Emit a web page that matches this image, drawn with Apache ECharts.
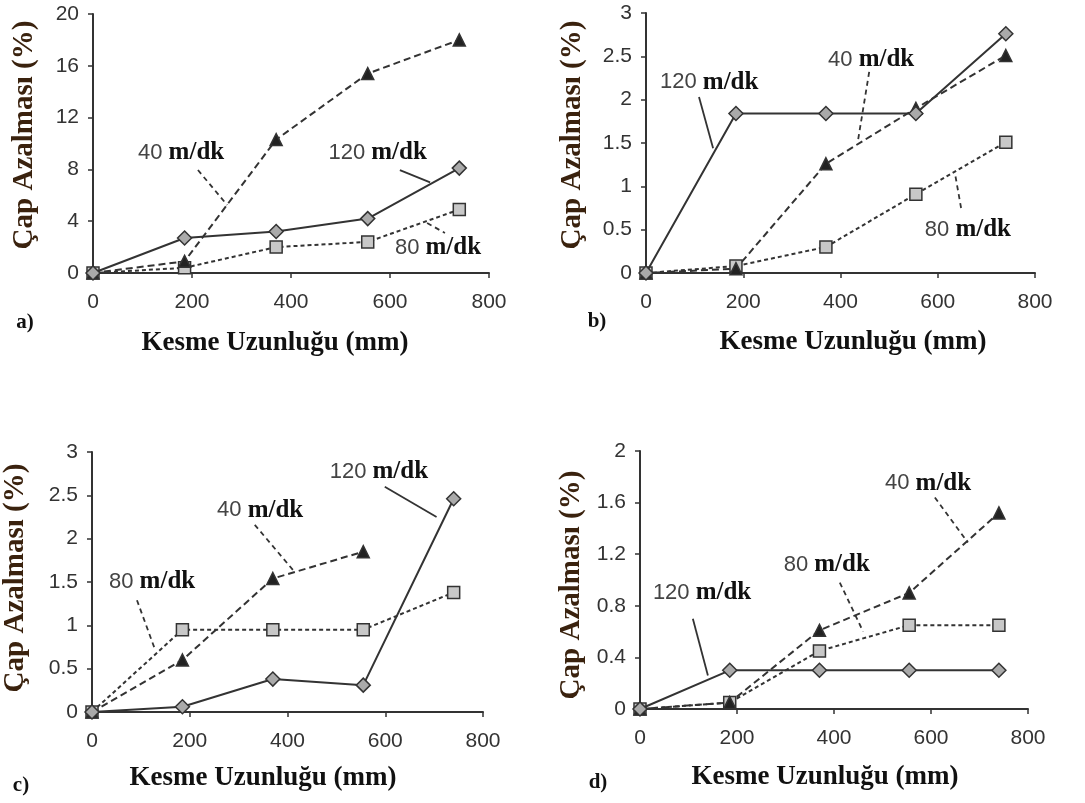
<!DOCTYPE html>
<html>
<head>
<meta charset="utf-8">
<script src="https://cdn.jsdelivr.net/npm/echarts@6/dist/echarts.min.js"></script>
<style>
  html, body { margin: 0; padding: 0; background: #fff; }
  #main { width: 1085px; height: 803px; }
</style>
</head>
<body>
<div id="main"></div>
<script>
// kesme uzunlugu (mm)
const xValues = [0, 185, 370, 555, 740];

// a)
const a40 = [0, 0.9, 10.3, 15.4, 18.0];
const a80 = [0, 0.4, 2.0, 2.4, 4.9];
const a120 = [0, 2.7, 3.2, 4.2, 8.1];
// b)
const b40 = [0, 0.05, 1.26, 1.9, 2.51];
const b80 = [0, 0.08, 0.3, 0.91, 1.51];
const b120 = [0, 1.84, 1.84, 1.84, 2.76];
// c)
const c40 = [0, 0.6, 1.54, 1.85];
const c80 = [0, 0.95, 0.95, 0.95, 1.38];
const c120 = [0, 0.06, 0.38, 0.31, 2.46];
// d)
const d40 = [0, 0.05, 0.61, 0.9, 1.52];
const d80 = [0, 0.05, 0.45, 0.65, 0.65];
const d120 = [0, 0.3, 0.3, 0.3, 0.3];

// y axis max / step per panel
const yMax = [20, 3, 3, 2];
const yStep = [4, 0.5, 0.5, 0.4];

// notes: [textX, textY, lineX1, lineY1, lineX2, lineY2] in data units
const notes = {
  a: { 40: [178, 9.3, 212, 7.95, 271, 5.25], 80: [697, 1.93, 675, 3.86, 711, 3.09], 120: [575, 9.3, 620, 7.95, 681, 7.0] },
  b: { 40: [463, 2.46, 459, 2.32, 436, 1.53], 80: [662, 0.5, 648, 0.75, 636, 1.13], 120: [130, 2.2, 109, 2.03, 138, 1.44] },
  c: { 40: [344, 2.33, 333, 2.16, 411, 1.64], 80: [123, 1.5, 92, 1.29, 129, 0.72], 120: [587, 2.77, 599, 2.6, 705, 2.25] },
  d: { 40: [594, 1.75, 608, 1.64, 676, 1.29], 80: [385, 1.12, 412, 0.98, 460, 0.6], 120: [128, 0.9, 109, 0.7, 140, 0.26] }
};

const grids = [
  { left: 93, top: 14, width: 396, height: 259 },
  { left: 646, top: 13, width: 389, height: 260 },
  { left: 92, top: 452, width: 391, height: 260 },
  { left: 640, top: 451, width: 388, height: 258 }
];

const ink = '#333';
const serif = '"Liberation Serif", "DejaVu Serif", serif';
const sans = '"Liberation Sans", Arial, sans-serif';

const styles = {
  40: { symbol: 'triangle', size: 12, fill: '#222', type: [7, 4] },
  80: { symbol: 'rect', size: 12, fill: '#c8c8c8', type: [4, 3] },
  120: { symbol: 'diamond', size: 14, fill: '#aaa', type: 'solid' }
};

function pairs(vals) {
  return vals.map((v, i) => [xValues[i], v]);
}

function makeSeries(idx, key, speed, vals) {
  const st = styles[speed];
  const n = notes[key][speed];
  return {
    type: 'line',
    xAxisIndex: idx,
    yAxisIndex: idx,
    data: pairs(vals),
    symbol: st.symbol,
    symbolSize: st.size,
    itemStyle: { color: st.fill, borderColor: ink, borderWidth: 1.5 },
    lineStyle: { color: ink, width: 2, type: st.type },
    z: speed === 120 ? 3 : 2,
    silent: true,
    markPoint: {
      symbol: 'circle',
      symbolSize: 1,
      itemStyle: { color: 'transparent' },
      label: {
        show: true,
        position: 'inside',
        formatter: '{n|' + speed + ' }{u|m/dk}',
        rich: {
          n: { fontFamily: sans, fontSize: 22, color: '#444' },
          u: { fontFamily: serif, fontSize: 25, fontWeight: 'bold', color: '#111' }
        }
      },
      data: [{ coord: [n[0], n[1]] }]
    },
    markLine: {
      silent: true,
      symbol: 'none',
      label: { show: false },
      lineStyle: { color: ink, width: 1.8, type: st.type === 'solid' ? 'solid' : [5, 4] },
      data: [[{ coord: [n[2], n[3]] }, { coord: [n[4], n[5]] }]]
    }
  };
}

const series = [
  makeSeries(0, 'a', 80, a80), makeSeries(0, 'a', 40, a40), makeSeries(0, 'a', 120, a120),
  makeSeries(1, 'b', 80, b80), makeSeries(1, 'b', 40, b40), makeSeries(1, 'b', 120, b120),
  makeSeries(2, 'c', 80, c80), makeSeries(2, 'c', 40, c40), makeSeries(2, 'c', 120, c120),
  makeSeries(3, 'd', 80, d80), makeSeries(3, 'd', 40, d40), makeSeries(3, 'd', 120, d120)
];

const axisLine = { show: true, onZero: false, lineStyle: { color: ink, width: 2 } };
const axisTick = { show: true, inside: false, length: 5, lineStyle: { color: ink, width: 1.5 } };
const axisLabel = { fontFamily: sans, fontSize: 21, color: '#333' };

const xAxis = grids.map((g, i) => ({
  type: 'value', gridIndex: i, min: 0, max: 800, interval: 200,
  axisLine, axisTick, splitLine: { show: false },
  axisLabel: Object.assign({ margin: 19 }, axisLabel)
}));
const yAxis = grids.map((g, i) => ({
  type: 'value', gridIndex: i, min: 0, max: yMax[i], interval: yStep[i],
  axisLine, axisTick, splitLine: { show: false },
  axisLabel: Object.assign({ margin: 14 }, axisLabel)
}));

const xTitle = 'Kesme Uzunluğu (mm)';
const yTitle = 'Çap Azalması (%)';

function text(x, y, s, size) {
  return {
    type: 'text', x: x, y: y,
    style: { text: s, fill: '#111', align: 'center', verticalAlign: 'middle',
      fontFamily: serif, fontSize: size, fontWeight: 'bold' }
  };
}
function vtext(x, y, s) {
  return {
    type: 'text', x: x, y: y, rotation: Math.PI / 2,
    style: { text: s, fill: '#3a220e', align: 'center', verticalAlign: 'middle',
      fontFamily: serif, fontSize: 29, fontWeight: 'bold' }
  };
}

const graphic = [
  text(275, 343, xTitle, 27), text(853, 342, xTitle, 27), text(263, 778, xTitle, 27), text(825, 777, xTitle, 27),
  vtext(25, 135, yTitle), vtext(573, 135, yTitle), vtext(16, 578, yTitle), vtext(572, 585, yTitle),
  text(25, 323, 'a)', 21), text(597, 322, 'b)', 21),
  text(21, 786, 'c)', 21), text(598, 783, 'd)', 21)
];

const chart = echarts.init(document.getElementById('main'), null, { renderer: 'canvas' });
chart.setOption({
  backgroundColor: '#fff',
  animation: false,
  grid: grids,
  xAxis: xAxis,
  yAxis: yAxis,
  series: series,
  graphic: graphic
});
</script>
</body>
</html>
